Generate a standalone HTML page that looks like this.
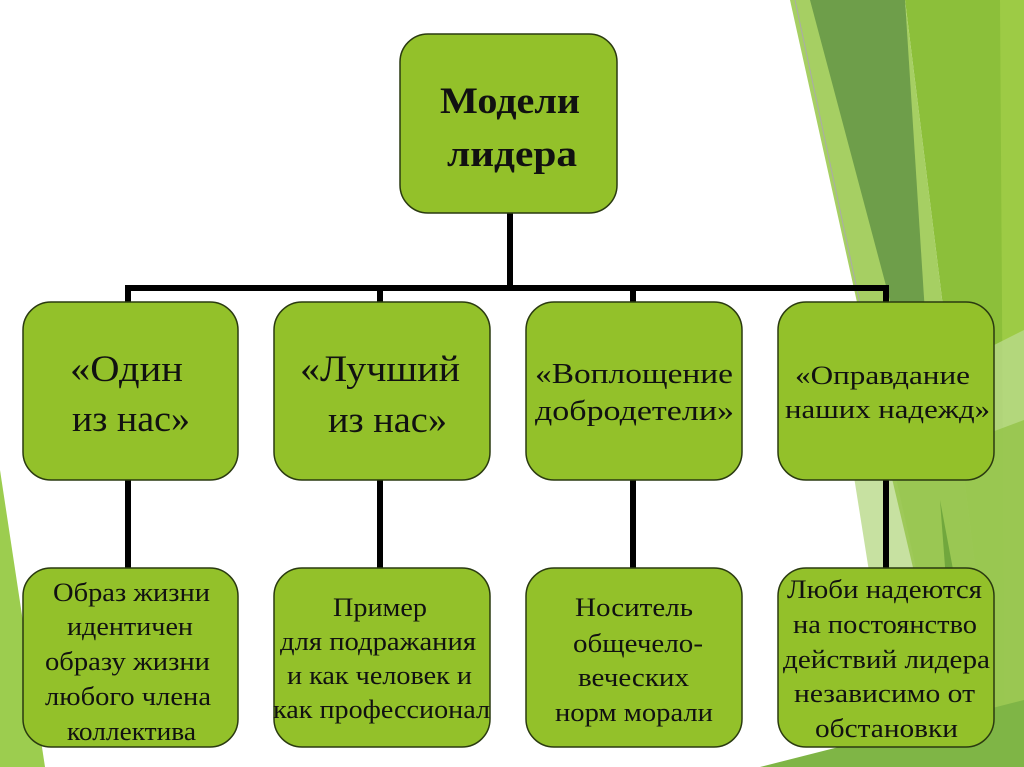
<!DOCTYPE html>
<html><head><meta charset="utf-8"><style>
html,body{margin:0;padding:0;background:#fff;}
svg{display:block}
text{font-family:"Liberation Serif",serif;fill:#111}
</style></head><body>
<svg width="1024" height="767" viewBox="0 0 1024 767" xmlns="http://www.w3.org/2000/svg">
<polygon points="905,0 1024,0 1024,767 1000,767" fill="#8cbf3a"/>
<polygon points="1000,0 1024,0 1024,767 1005,767" fill="#9dcb45"/>
<polygon points="790,0 905,0 1000,767 960,767" fill="#a6cf63"/>
<polygon points="810,0 905,0 935,470" fill="#6e9e4a"/>
<polygon points="845,420 1024,330 1024,767 900,767" fill="#b9d98a" opacity="0.8"/>
<polygon points="890,470 960,767 1024,767 1024,420" fill="#93c347" opacity="0.8"/>
<polygon points="940,500 990,767 960,767" fill="#5f9a35" opacity="0.7"/>
<polygon points="760,767 1024,700 1024,767" fill="#7fb546"/>
<polygon points="0,470 45,767 0,767" fill="#9ccd4f"/>
<line x1="795" y1="0" x2="870" y2="350" stroke="#aaa" stroke-width="1"/>
<g stroke="#000" stroke-width="6" fill="none">
<line x1="510" y1="212" x2="510" y2="288"/>
<polyline points="128,302 128,288 886,288 886,302"/>
<line x1="380" y1="288" x2="380" y2="302"/>
<line x1="633" y1="288" x2="633" y2="302"/>
<line x1="128" y1="480" x2="128" y2="570"/>
<line x1="380" y1="480" x2="380" y2="570"/>
<line x1="633" y1="480" x2="633" y2="570"/>
<line x1="886" y1="480" x2="886" y2="570"/>
</g>
<g fill="#93c12a" stroke="#2a3a10" stroke-width="1.5">
<rect x="400" y="34" width="217" height="179" rx="28"/>
<rect x="23" y="302" width="215" height="178" rx="28"/>
<rect x="274" y="302" width="216" height="178" rx="28"/>
<rect x="526" y="302" width="216" height="178" rx="28"/>
<rect x="778" y="302" width="216" height="178" rx="28"/>
<rect x="23" y="568" width="215" height="179" rx="28"/>
<rect x="274" y="568" width="216" height="179" rx="28"/>
<rect x="526" y="568" width="216" height="179" rx="28"/>
<rect x="778" y="568" width="216" height="179" rx="28"/>
</g>
<g lengthAdjust="spacingAndGlyphs">
<text x="440" y="113" font-size="37" font-weight="bold" textLength="140" lengthAdjust="spacingAndGlyphs">Модели</text>
<text x="447" y="166" font-size="37" font-weight="bold" textLength="130" lengthAdjust="spacingAndGlyphs">лидера</text>

<text x="70" y="381" font-size="37" textLength="113" lengthAdjust="spacingAndGlyphs">«Один</text>
<text x="72" y="431" font-size="37" textLength="118" lengthAdjust="spacingAndGlyphs">из нас»</text>
<text x="300" y="381" font-size="37" textLength="160" lengthAdjust="spacingAndGlyphs">«Лучший</text>
<text x="328" y="432" font-size="37" textLength="119" lengthAdjust="spacingAndGlyphs">из нас»</text>
<text x="535" y="383" font-size="29" textLength="198" lengthAdjust="spacingAndGlyphs">«Воплощение</text>
<text x="535" y="420" font-size="29" textLength="199" lengthAdjust="spacingAndGlyphs">добродетели»</text>
<text x="795" y="384" font-size="26" textLength="175" lengthAdjust="spacingAndGlyphs">«Оправдание</text>
<text x="785" y="418" font-size="26" textLength="205" lengthAdjust="spacingAndGlyphs">наших надежд»</text>
</g>
<g font-size="26">
<text x="53" y="601" textLength="157" lengthAdjust="spacingAndGlyphs">Образ жизни</text>
<text x="67" y="635" textLength="126" lengthAdjust="spacingAndGlyphs">идентичен</text>
<text x="45" y="670" textLength="165" lengthAdjust="spacingAndGlyphs">образу жизни</text>
<text x="45" y="705" textLength="166" lengthAdjust="spacingAndGlyphs">любого члена</text>
<text x="67" y="740" textLength="129" lengthAdjust="spacingAndGlyphs">коллектива</text>

<text x="333" y="616" textLength="94" lengthAdjust="spacingAndGlyphs">Пример</text>
<text x="280" y="650" textLength="196" lengthAdjust="spacingAndGlyphs">для подражания</text>
<text x="287" y="684" textLength="185" lengthAdjust="spacingAndGlyphs">и как человек и</text>
<text x="273" y="718" textLength="217" lengthAdjust="spacingAndGlyphs">как профессионал</text>

<text x="575" y="616" textLength="118" lengthAdjust="spacingAndGlyphs">Носитель</text>
<text x="573" y="652" textLength="130" lengthAdjust="spacingAndGlyphs">общечело-</text>
<text x="578" y="686" textLength="111" lengthAdjust="spacingAndGlyphs">веческих</text>
<text x="555" y="721" textLength="158" lengthAdjust="spacingAndGlyphs">норм морали</text>

<text x="787" y="598" textLength="195" lengthAdjust="spacingAndGlyphs">Люби надеются</text>
<text x="793" y="633" textLength="184" lengthAdjust="spacingAndGlyphs">на постоянство</text>
<text x="783" y="668" textLength="207" lengthAdjust="spacingAndGlyphs">действий лидера</text>
<text x="794" y="702" textLength="181" lengthAdjust="spacingAndGlyphs">независимо от</text>
<text x="815" y="737" textLength="143" lengthAdjust="spacingAndGlyphs">обстановки</text>
</g>
</svg>
</body></html>
